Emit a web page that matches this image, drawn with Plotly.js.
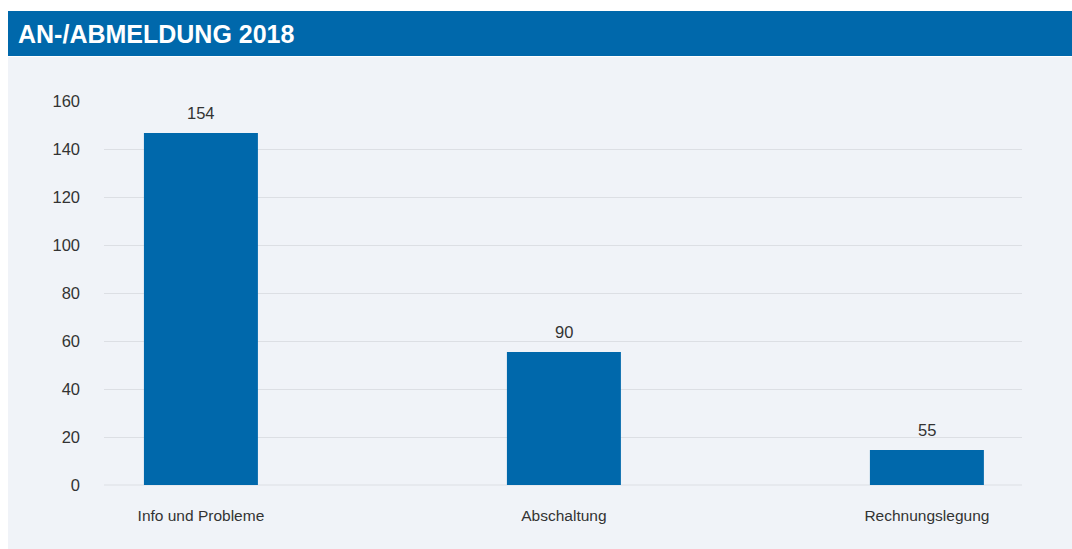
<!DOCTYPE html>
<html>
<head>
<meta charset="utf-8">
<script src="https://cdn.plot.ly/plotly-3.0.1.min.js"></script>
<style>html,body{margin:0;padding:0;background:#fff;}#chart{width:1072px;height:549px;}</style>
</head>
<body>
<div id="chart"></div>
<script>
const categories = ["Info und Probleme", "Abschaltung", "Rechnungslegung"];
const barHeights = [146.7, 55.4, 14.6];
const barLabels = ["154", "90", "55"];
const yTicks = [0, 20, 40, 60, 80, 100, 120, 140, 160];
const chartTitle = "AN-/ABMELDUNG 2018";

const FONT = "Liberation Sans, Arial, sans-serif";

const trace = {
  type: "bar",
  x: categories,
  y: barHeights,
  marker: {color: "#0068ab"},
  width: 0.314,
  hoverinfo: "skip"
};

const labelAnnotations = categories.map((c, i) => ({
  x: c, y: barHeights[i], xref: "x", yref: "y",
  text: barLabels[i], showarrow: false,
  xanchor: "center", yanchor: "bottom", yshift: 9,
  font: {family: FONT, size: 16.5, color: "#333333"}
}));

const layout = {
  width: 1072, height: 549,
  paper_bgcolor: "#ffffff",
  plot_bgcolor: "rgba(0,0,0,0)",
  margin: {l: 104, r: 50, t: 101, b: 64},
  showlegend: false,
  font: {family: FONT, size: 15, color: "#333333"},
  xaxis: {
    type: "category",
    range: [-0.267, 2.262],
    showgrid: false, zeroline: false, showline: false,
    ticks: "", ticklabelstandoff: 19,
    tickfont: {size: 15.5, color: "#333333"}
  },
  yaxis: {
    range: [0, 160],
    tickvals: yTicks,
    ticktext: yTicks.map(String),
    showgrid: true, gridcolor: "#dcdfe4", gridwidth: 1,
    zeroline: false, showline: false,
    ticks: "", ticklabelstandoff: 23,
    tickfont: {size: 16.5, color: "#333333"}
  },
  shapes: [
    {type: "rect", xref: "paper", yref: "paper", layer: "below",
     x0: -96/918, x1: 1072/918, y0: -64/384, y1: (485-57)/384,
     fillcolor: "#f0f3f8", line: {width: 0}},
    {type: "rect", xref: "paper", yref: "paper", layer: "below",
     x0: -96/918, x1: 1072/918, y0: (485-56)/384, y1: (485-11)/384,
     fillcolor: "#0068ab", line: {width: 0}},
    {type: "line", xref: "paper", yref: "paper", layer: "below",
     x0: 0, x1: 1, y0: 0, y1: 0, line: {color: "#dcdfe4", width: 1}}
  ],
  annotations: [
    {xref: "paper", yref: "paper", x: -88/918, y: (485-33.5)/384,
     xanchor: "left", yanchor: "middle", showarrow: false,
     text: "<b>" + chartTitle + "</b>",
     font: {family: FONT, size: 25, color: "#ffffff"}}
  ].concat(labelAnnotations)
};

Plotly.newPlot("chart", [trace], layout, {displayModeBar: false, staticPlot: true});
</script>
</body>
</html>
